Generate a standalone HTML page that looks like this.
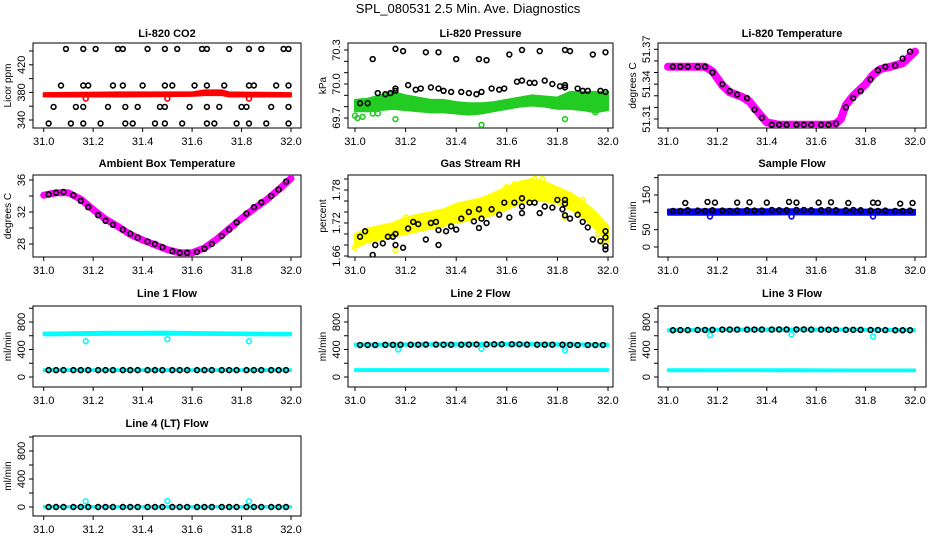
<!DOCTYPE html>
<html><head><meta charset="utf-8"><style>
body{margin:0;background:#fff}
svg{display:block;font-family:"Liberation Sans",sans-serif}
</style></head><body>
<svg id="c" width="936" height="540" viewBox="0 0 936 540">
<text x="468" y="13" text-anchor="middle" font-size="13">SPL_080531  2.5 Min. Ave. Diagnostics</text>
</svg>
<script>
const sampleX=[31.02,31.05,31.08,31.12,31.15,31.18,31.22,31.25,31.28,31.32,31.35,31.38,31.42,31.45,31.48,31.52,31.55,31.58,31.62,31.65,31.68,31.72,31.75,31.78,31.82,31.85,31.88,31.92,31.95,31.98];
const bandX=[31.0,31.05,31.1,31.15,31.2,31.25,31.3,31.35,31.4,31.45,31.5,31.55,31.6,31.65,31.7,31.75,31.8,31.85,31.9,31.95,32.0];
const flowBandX=[31.0,31.25,31.5,31.75,32.0];
const outlierX=[31.17,31.5,31.83];
const xTicks=[31.0,31.2,31.4,31.6,31.8,32.0];

// CO2
const co2BlackX=[31.09,31.16,31.21,31.30,31.32,31.42,31.49,31.54,31.64,31.66,31.75,31.83,31.88,31.97,31.99,
31.07,31.16,31.18,31.28,31.32,31.40,31.49,31.52,31.61,31.66,31.73,31.83,31.85,31.94,31.99,
31.04,31.13,31.16,31.26,31.33,31.38,31.47,31.49,31.59,31.66,31.71,31.80,31.82,31.92,31.99,
31.02,31.11,31.16,31.23,31.33,31.36,31.45,31.49,31.56,31.66,31.69,31.78,31.83,31.90,31.99];
const co2BlackY=[443,443,443,443,443,443,443,443,443,443,443,443,443,443,443,
390,390,390,390,390,390,390,390,390,390,390,390,390,390,390,
359,359,359,359,359,359,359,359,359,359,359,359,359,359,359,
335,335,335,335,335,335,335,335,335,335,335,335,335,335,335];
const co2BandX=[31.0,31.3,31.6,31.65,31.72,31.75,32.0];
const co2Lo=[374,374,375,376,376,374,374];
const co2Hi=[379,380,380,383,383,380,379];
const co2OutY=[371,371,371];

// Pressure
const presBlackX=[31.07,31.16,31.19,31.28,31.33,31.40,31.49,31.52,31.61,31.66,31.73,31.83,31.85,31.94,31.99,
31.02,31.05,31.09,31.12,31.14,31.16,31.16,31.21,31.24,31.26,31.30,31.33,31.35,31.38,31.42,31.45,31.48,31.50,31.54,31.57,31.59,31.64,31.66,31.69,31.71,31.75,31.78,31.81,31.83,31.83,31.88,31.90,31.92,31.97,31.99];
const presBlackY=[70.22,70.31,70.29,70.28,70.28,70.22,70.22,70.21,70.26,70.30,70.29,70.30,70.29,70.26,70.28,
69.83,69.83,69.92,69.91,69.92,69.94,69.96,69.99,69.95,69.96,69.97,69.96,69.94,69.93,69.93,69.92,69.91,69.93,69.96,69.95,69.96,70.02,70.03,70.01,70.01,70.03,70.00,69.98,69.99,69.97,69.96,69.94,69.94,69.94,69.93];
const presLo=[69.76,69.76,69.77,69.78,69.77,69.76,69.75,69.75,69.74,69.73,69.74,69.76,69.78,69.80,69.81,69.80,69.78,69.78,69.77,69.75,69.77];
const presHi=[69.86,69.87,69.90,69.93,69.90,69.88,69.86,69.86,69.84,69.83,69.83,69.84,69.86,69.88,69.90,69.89,69.88,69.93,69.93,69.93,69.93];
const presOutX=[31.0,31.01,31.03,31.07,31.09,31.16,31.5,31.83,31.95];
const presOutY=[69.72,69.70,69.71,69.74,69.74,69.69,69.64,69.69,69.75];

// Li-820 temperature
const ltX=[31.0,31.05,31.1,31.15,31.18,31.2,31.22,31.25,31.3,31.33,31.36,31.4,31.45,31.5,31.55,31.6,31.65,31.68,31.7,31.72,31.75,31.8,31.83,31.86,31.9,31.95,32.0];
const ltY=[51.355,51.355,51.355,51.355,51.351,51.345,51.339,51.333,51.329,51.325,51.317,51.307,51.305,51.305,51.305,51.305,51.305,51.306,51.310,51.322,51.330,51.340,51.348,51.353,51.355,51.358,51.368];
const ltBlackY=[51.355,51.355,51.355,51.355,51.355,51.350,51.340,51.334,51.331,51.328,51.318,51.311,51.305,51.305,51.305,51.305,51.305,51.305,51.305,51.305,51.306,51.320,51.328,51.334,51.344,51.352,51.355,51.356,51.362,51.368];

// Ambient
const ambY=[34.1,34.4,34.4,33.6,32.3,31.1,30.2,29.2,28.5,27.9,27.3,26.9,26.9,27.5,28.6,29.9,31.2,32.4,33.5,34.8,36.2];
const ambBlackY=[34.2,34.4,34.5,34.1,33.4,32.6,31.6,30.9,30.4,29.8,29.3,28.8,28.3,28.0,27.6,27.1,26.9,26.9,27.0,27.4,28.0,29.0,29.8,30.7,31.8,32.6,33.2,34.0,34.8,35.8];

// Gas stream RH
const rhLo=[1.675,1.685,1.69,1.695,1.70,1.705,1.71,1.715,1.72,1.725,1.73,1.735,1.745,1.755,1.76,1.76,1.755,1.745,1.73,1.71,1.685];
const rhHi=[1.70,1.71,1.715,1.72,1.73,1.735,1.74,1.745,1.755,1.76,1.765,1.775,1.785,1.795,1.80,1.795,1.785,1.775,1.76,1.74,1.715];
const rhYelX=[31.0,31.07,31.16,31.2,31.4,31.48,31.6,31.63,31.71,31.74,31.83,31.9,31.96,31.98];
const rhYelY=[1.675,1.662,1.67,1.73,1.738,1.75,1.785,1.79,1.80,1.80,1.73,1.762,1.70,1.685];
const rhBlackX=[31.02,31.04,31.07,31.08,31.11,31.13,31.15,31.16,31.16,31.19,31.21,31.23,31.25,31.28,31.30,31.32,31.33,31.33,31.36,31.38,31.40,31.42,31.45,31.47,31.49,31.50,31.49,31.52,31.54,31.57,31.59,31.61,31.63,31.66,31.66,31.66,31.69,31.71,31.73,31.75,31.78,31.80,31.83,31.83,31.82,31.83,31.85,31.88,31.90,31.92,31.94,31.97,31.99,31.99,31.99,31.99];
const rhBlackY=[1.695,1.705,1.662,1.68,1.683,1.695,1.695,1.70,1.68,1.675,1.71,1.722,1.718,1.69,1.72,1.722,1.707,1.68,1.705,1.714,1.708,1.728,1.74,1.723,1.745,1.728,1.711,1.72,1.745,1.735,1.757,1.73,1.757,1.765,1.75,1.738,1.757,1.757,1.738,1.75,1.748,1.762,1.762,1.755,1.745,1.734,1.728,1.735,1.722,1.712,1.69,1.687,1.705,1.694,1.678,1.672];

// Sample flow
const sfLo=[93,93,94,93,93];
const sfHi=[108,109,109,108,107];
const sfBlackY=[104,104,106,105,104,106,105,104,105,106,105,105,107,106,106,107,107,106,106,107,106,106,107,106,105,104,105,104,104,105];
const sfUpX=[31.07,31.16,31.19,31.28,31.33,31.40,31.49,31.52,31.61,31.66,31.73,31.83,31.85,31.94,31.99];
const sfUpY=[127,130,128,128,129,128,130,128,128,129,127,128,127,125,127];
const sfOutY=[88,88,88];

// Line flows
const l1UpLo=[605,612,615,610,605];
const l1UpHi=[645,658,660,650,640];
const l1LowLo=[88,88,88,88,88];
const l1LowHi=[112,112,112,112,112];
const l1BlackY=[100,100,100,100,100,100,100,100,100,100,100,100,100,100,100,100,100,100,100,100,100,100,100,100,100,100,100,100,100,100];
const l1OutY=[520,550,520];
const l2UpLo=[452,456,458,458,452];
const l2UpHi=[485,490,495,492,485];
const l2LowLo=[88,88,88,88,88];
const l2LowHi=[115,115,115,115,115];
const l2BlackY=[465,465,465,468,468,470,470,470,472,472,470,470,470,472,474,475,475,476,476,476,472,470,470,470,470,468,465,465,465,465];
const l2OutY=[400,410,390];
const l3UpLo=[666,672,674,672,666];
const l3UpHi=[696,704,706,702,696];
const l3LowLo=[84,86,84,84,84];
const l3LowHi=[112,112,112,110,110];
const l3BlackY=[680,682,682,684,684,686,690,690,690,690,690,690,690,692,692,692,692,690,690,688,688,686,686,686,684,684,682,680,680,680];
const l3OutY=[610,620,590];
const l4Lo=[-8,-8,-8,-8,-8];
const l4Hi=[12,12,12,12,12];
const l4BlackY=[0,0,0,0,0,0,0,0,0,0,0,0,0,0,0,0,0,0,0,0,0,0,0,0,0,0,0,0,0,0];
const l4OutY=[80,85,80];

const NS="http://www.w3.org/2000/svg";
const svg=document.getElementById('c');
function mk(tag,attrs,parent){const e=document.createElementNS(NS,tag);for(const k in attrs)e.setAttribute(k,attrs[k]);(parent||svg).appendChild(e);return e;}
const cols=[{b0:33,b1:301,x0:43.7,x1:291},{b0:348,b1:613,x0:355,x1:608},{b0:658,b1:926,x0:668,x1:915}];
const rows=[{t:43,b:128,ty:37},{t:175,b:257,ty:167},{t:306,b:387,ty:297},{t:436,b:516,ty:427}];

function panel(cfg){
  const c=cols[cfg.col],r=rows[cfg.row];
  const g=mk('g',{});
  
  
  const sx=v=>c.x0+(v-31)*(c.x1-c.x0);
  const sy=v=>cfg.p0+(v-cfg.v0)*(cfg.p1-cfg.p0)/(cfg.v1-cfg.v0);
  const t=mk('text',{x:(c.b0+c.b1)/2,y:r.ty,'text-anchor':'middle','font-size':11,'font-weight':'bold'},g);
  t.textContent=cfg.title;
  
  
  const box=mk('rect',{x:c.b0,y:r.t,width:c.b1-c.b0,height:r.b-r.t,fill:'none',stroke:'#000','stroke-width':1},g);
  
  
  const xa=mk('g',{},g);
  
  
  xTicks.forEach(v=>{const x=sx(v);mk('line',{x1:x,x2:x,y1:r.b,y2:r.b+4,stroke:'#000'},xa);
    const tl=mk('text',{x:x,y:r.b+17,'text-anchor':'middle','font-size':11},xa);tl.textContent=v.toFixed(1);
    
    });
  const ya=mk('g',{},g);
  
  
  cfg.yTicks.forEach((v,i)=>{const y=sy(v);mk('line',{x1:c.b0-4,x2:c.b0,y1:y,y2:y,stroke:'#000'},ya);
    if(cfg.yLabels[i]!==''){const tl=mk('text',{x:0,y:0,'text-anchor':'middle','font-size':11,transform:`translate(${c.b0-8},${y}) rotate(-90)`},ya);tl.textContent=cfg.yLabels[i];
    
    }});
  const yt=mk('text',{x:0,y:0,'text-anchor':'middle','font-size':10,transform:`translate(${c.b0-22},${(r.t+r.b)/2}) rotate(-90)`},g);
  yt.textContent=cfg.ylab;
  
  
  const clipId='cl'+cfg.row+cfg.col;
  const cp=mk('clipPath',{id:clipId},g);mk('rect',{x:c.b0,y:r.t,width:c.b1-c.b0,height:r.b-r.t},cp);
  const d=mk('g',{'clip-path':`url(#${clipId})`},g);
  (cfg.bands||[]).forEach(b=>{
    let pts=b.x.map((x,i)=>sx(x)+','+sy(b.hi[i]));
    pts=pts.concat(b.x.map((x,i)=>sx(x)+','+sy(b.lo[i])).reverse());
    const p=mk('polygon',{points:pts.join(' '),fill:b.color,stroke:b.color,'stroke-width':2,'stroke-linejoin':'round'},d);
    
    
  });
  (cfg.curves||[]).forEach(cv=>{
    const p=mk('polyline',{points:cv.x.map((x,i)=>sx(x)+','+sy(cv.y[i])).join(' '),fill:'none',stroke:cv.color,'stroke-width':cv.w,'stroke-linejoin':'round','stroke-linecap':'round'},d);
    
    
  });
  (cfg.points||[]).forEach(ps=>{
    ps.x.forEach((x,i)=>{
      const ci=mk('circle',{cx:sx(x),cy:sy(ps.y[i]),r:2.4,fill:'none',stroke:ps.color,'stroke-width':1.6},d);
      
      
    });
  });
}

const flowTicks=[0,200,400,600,800,1000];
const flowLabels=['0','','400','','800',''];
panel({name:'co2-panel',row:0,col:0,title:'Li-820 CO2',ylab:'Licor ppm',v0:340,p0:120,v1:440,p1:51,
  yTicks:[340,360,380,400,420,440],yLabels:['340','','380','','420',''],
  bands:[{name:'co2-band',x:co2BandX,lo:co2Lo,hi:co2Hi,color:'#f00'}],
  points:[{name:'co2-point',x:co2BlackX,y:co2BlackY,color:'#000'},{name:'co2-outlier',x:outlierX,y:co2OutY,color:'#f00'}]});
panel({name:'pressure-panel',row:0,col:1,title:'Li-820 Pressure',ylab:'kPa',v0:69.7,p0:118,v1:70.3,p1:50,
  yTicks:[69.7,69.8,69.9,70.0,70.1,70.2,70.3],yLabels:['69.7','','','70.0','','','70.3'],
  bands:[{name:'pressure-band',x:bandX,lo:presLo,hi:presHi,color:'#2c2'}],
  points:[{name:'pressure-outlier',x:presOutX,y:presOutY,color:'#2c2'},{name:'pressure-point',x:presBlackX,y:presBlackY,color:'#000'}]});
panel({name:'li820-temp-panel',row:0,col:2,title:'Li-820 Temperature',ylab:'degrees C',v0:51.31,p0:119,v1:51.37,p1:49.3,
  yTicks:[51.31,51.32,51.33,51.34,51.35,51.36,51.37],yLabels:['51.31','','','51.34','','','51.37'],
  curves:[{name:'li820-temp-line',x:ltX,y:ltY,color:'#f0f',w:8}],
  points:[{name:'li820-temp-point',x:sampleX,y:ltBlackY,color:'#000'}]});
panel({name:'ambient-temp-panel',row:1,col:0,title:'Ambient Box Temperature',ylab:'degrees C',v0:28,p0:244,v1:36,p1:180,
  yTicks:[28,30,32,34,36],yLabels:['28','','32','','36'],
  curves:[{name:'ambient-temp-line',x:bandX,y:ambY,color:'#f0f',w:7}],
  points:[{name:'ambient-temp-point',x:sampleX,y:ambBlackY,color:'#000'}]});
panel({name:'rh-panel',row:1,col:1,title:'Gas Stream RH',ylab:'percent',v0:1.66,p0:256,v1:1.78,p1:190,
  yTicks:[1.66,1.68,1.70,1.72,1.74,1.76,1.78,1.80],yLabels:['1.66','','','1.72','','','1.78',''],
  bands:[{name:'rh-band',x:bandX,lo:rhLo,hi:rhHi,color:'#ff0'}],
  points:[{name:'rh-yellow-point',x:rhYelX,y:rhYelY,color:'#ff0'},{name:'rh-point',x:rhBlackX,y:rhBlackY,color:'#000'}]});
panel({name:'sample-flow-panel',row:1,col:2,title:'Sample Flow',ylab:'ml/min',v0:0,p0:247,v1:150,p1:195,
  yTicks:[0,50,100,150,200],yLabels:['0','50','','150',''],
  bands:[{name:'sample-flow-band',x:flowBandX,lo:sfLo,hi:sfHi,color:'#00f'}],
  points:[{name:'sample-flow-outlier',x:outlierX,y:sfOutY,color:'#00f'},{name:'sample-flow-point',x:sampleX,y:sfBlackY,color:'#000'},{name:'sample-flow-upper-point',x:sfUpX,y:sfUpY,color:'#000'}]});
panel({name:'line1-flow-panel',row:2,col:0,title:'Line 1 Flow',ylab:'ml/min',v0:0,p0:377,v1:800,p1:322,yTicks:flowTicks,yLabels:flowLabels,
  bands:[{name:'line1-upper-band',x:flowBandX,lo:l1UpLo,hi:l1UpHi,color:'#0ff'},{name:'line1-lower-band',x:flowBandX,lo:l1LowLo,hi:l1LowHi,color:'#0ff'}],
  points:[{name:'line1-outlier',x:outlierX,y:l1OutY,color:'#0ff'},{name:'line1-point',x:sampleX,y:l1BlackY,color:'#000'}]});
panel({name:'line2-flow-panel',row:2,col:1,title:'Line 2 Flow',ylab:'ml/min',v0:0,p0:377,v1:800,p1:322,yTicks:flowTicks,yLabels:flowLabels,
  bands:[{name:'line2-upper-band',x:flowBandX,lo:l2UpLo,hi:l2UpHi,color:'#0ff'},{name:'line2-lower-band',x:flowBandX,lo:l2LowLo,hi:l2LowHi,color:'#0ff'}],
  points:[{name:'line2-outlier',x:outlierX,y:l2OutY,color:'#0ff'},{name:'line2-point',x:sampleX,y:l2BlackY,color:'#000'}]});
panel({name:'line3-flow-panel',row:2,col:2,title:'Line 3 Flow',ylab:'ml/min',v0:0,p0:377,v1:800,p1:322,yTicks:flowTicks,yLabels:flowLabels,
  bands:[{name:'line3-upper-band',x:flowBandX,lo:l3UpLo,hi:l3UpHi,color:'#0ff'},{name:'line3-lower-band',x:flowBandX,lo:l3LowLo,hi:l3LowHi,color:'#0ff'}],
  points:[{name:'line3-outlier',x:outlierX,y:l3OutY,color:'#0ff'},{name:'line3-point',x:sampleX,y:l3BlackY,color:'#000'}]});
panel({name:'line4-flow-panel',row:3,col:0,title:'Line 4 (LT) Flow',ylab:'ml/min',v0:0,p0:507,v1:800,p1:451,yTicks:flowTicks,yLabels:flowLabels,
  bands:[{name:'line4-band',x:flowBandX,lo:l4Lo,hi:l4Hi,color:'#0ff'}],
  points:[{name:'line4-outlier',x:outlierX,y:l4OutY,color:'#0ff'},{name:'line4-point',x:sampleX,y:l4BlackY,color:'#000'}]});
</script>
</body></html>
